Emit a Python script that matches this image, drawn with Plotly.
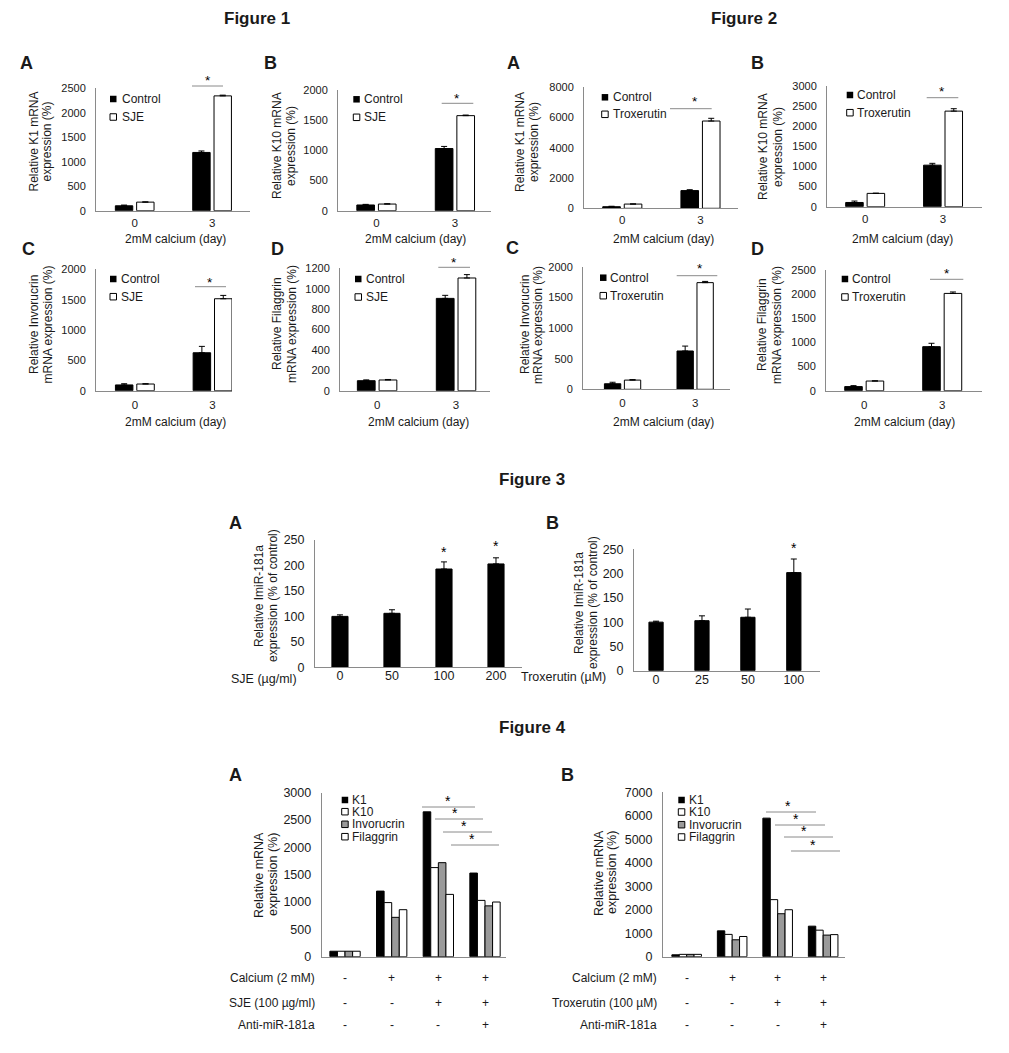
import plotly.graph_objects as go

W, H = 1009, 1053

# ------------------------- data -------------------------
days = ["0", "3"]

# Figure 1 (SJE)
f1_k1_control = [100, 1190]
f1_k1_control_err = [15, 30]
f1_k1_sje = [175, 2345]
f1_k1_sje_err = [5, 15]

f1_k10_control = [95, 1030]
f1_k10_control_err = [10, 35]
f1_k10_sje = [110, 1575]
f1_k10_sje_err = [5, 10]

f1_ivl_control = [95, 625]
f1_ivl_control_err = [20, 105]
f1_ivl_sje = [110, 1515]
f1_ivl_sje_err = [5, 55]

f1_flg_control = [98, 905]
f1_flg_control_err = [8, 30]
f1_flg_sje = [105, 1105]
f1_flg_sje_err = [5, 33]

# Figure 2 (Troxerutin)
f2_k1_control = [105, 1170]
f2_k1_control_err = [30, 60]
f2_k1_trox = [280, 5770]
f2_k1_trox_err = [10, 180]

f2_k10_control = [105, 1030]
f2_k10_control_err = [35, 45]
f2_k10_trox = [330, 2370]
f2_k10_trox_err = [5, 60]

f2_ivl_control = [90, 625]
f2_ivl_control_err = [25, 80]
f2_ivl_trox = [150, 1740]
f2_ivl_trox_err = [8, 20]

f2_flg_control = [85, 912]
f2_flg_control_err = [20, 70]
f2_flg_trox = [200, 2015]
f2_flg_trox_err = [5, 30]

# Figure 3
sje_doses = ["0", "50", "100", "200"]
f3_sje_mir = [100, 106, 193, 203]
f3_sje_mir_err = [3, 7, 14, 12]
trox_doses = ["0", "25", "50", "100"]
f3_trox_mir = [100, 103, 110, 202]
f3_trox_mir_err = [2, 10, 17, 28]
f3_sje_sig = ["100", "200"]
f3_trox_sig = ["100"]

# Figure 4
groups = ["untreated", "calcium", "calcium+drug", "calcium+drug+anti"]
markers = ["K1", "K10", "Invorucrin", "Filaggrin"]
f4a_k1 = [100, 1200, 2650, 1530]
f4a_k10 = [100, 990, 1630, 1030]
f4a_ivl = [100, 720, 1720, 930]
f4a_flg = [100, 860, 1140, 1000]
f4b_k1 = [80, 1100, 5900, 1300]
f4b_k10 = [100, 950, 2430, 1130]
f4b_ivl = [100, 720, 1830, 920]
f4b_flg = [100, 860, 2000, 940]
row_calcium = ["-", "+", "+", "+"]
row_drug = ["-", "-", "+", "+"]
row_anti = ["-", "-", "-", "+"]

# ------------------------- styling helpers -------------------------
FONT = "Liberation Sans, Arial, Helvetica, sans-serif"
TXT = "#1a1a1a"
AXC = "#8a8a8a"
GRAY = "#9a9a9a"


def px(x):
    return x / W


def py(y):
    return 1 - y / H


def ref(i, letter):
    return letter if i == 1 else f"{letter}{i}"


def axname(i, letter):
    return f"{letter}axis" if i == 1 else f"{letter}axis{i}"


fig = go.Figure()
axes = {}
annotations = []
shapes = []


def add_axes(i, cats, x0, x1, xr, base, top, ymax, dtick, tfs, xtfs, xstand, show_xt=True):
    axes[axname(i, "x")] = dict(
        domain=[px(x0), px(x1)], anchor=ref(i, "y"), type="category",
        categoryorder="array", categoryarray=cats, range=xr,
        showline=True, linecolor=AXC, linewidth=1, ticks="", showgrid=False,
        zeroline=False, showticklabels=show_xt, automargin=False,
        tickfont=dict(size=xtfs, color=TXT, family=FONT), ticklabelstandoff=xstand,
        fixedrange=True)
    axes[axname(i, "y")] = dict(
        domain=[py(base), py(top)], anchor=ref(i, "x"), range=[0, ymax],
        tick0=0, dtick=dtick, showline=True, linecolor=AXC, linewidth=1,
        ticks="", showgrid=False, zeroline=False, automargin=False,
        tickfont=dict(size=tfs, color=TXT, family=FONT), ticklabelstandoff=7,
        fixedrange=True)


def bar(i, cats, vals, err, fill, offset, width):
    kw = {}
    if err is not None:
        kw["error_y"] = dict(type="data", array=err, arrayminus=[0] * len(err),
                             symmetric=False, color="black", thickness=1, width=3)
    fig.add_trace(go.Bar(
        x=cats, y=vals, xaxis=ref(i, "x"), yaxis=ref(i, "y"),
        marker=dict(color=fill, line=dict(color="black", width=1)),
        offset=offset, width=width, showlegend=False, **kw))


def txt(x, y, s, size=12, bold=False, xanchor="center", yanchor="middle",
        angle=0, xref="paper", color=TXT):
    annotations.append(dict(
        x=px(x) if xref == "paper" else x, y=py(y), xref=xref, yref="paper",
        text=f"<b>{s}</b>" if bold else s, showarrow=False,
        font=dict(size=size, color=color, family=FONT),
        xanchor=xanchor, yanchor=yanchor, textangle=angle))


def hline(x0, x1, y):
    shapes.append(dict(type="line", xref="paper", yref="paper",
                       x0=px(x0), x1=px(x1), y0=py(y), y1=py(y),
                       line=dict(color=AXC, width=1)))


def legend_item(bx, tx, y, label, fill, size=12):
    s = 6.5
    shapes.append(dict(type="rect", xref="paper", yref="paper",
                       x0=px(bx), x1=px(bx + s), y0=py(y + s / 2), y1=py(y - s / 2),
                       fillcolor=fill,
                       line=dict(color="black", width=0 if fill == "black" else 1)))
    txt(tx, y, label, size=size, xanchor="left")


def ytitle(lines, xs, yc, size=12):
    for s, x in zip(lines, xs):
        txt(x, yc, s, size=size, angle=-90)


# ------------------------- Figures 1 & 2 -------------------------
W2 = 0.225
two_panels = [
    # idx, control, ctrl err, treat, treat err, x0, x1, xr, base, top, ymax, dtick, x-label standoff
    (1, f1_k1_control, f1_k1_control_err, f1_k1_sje, f1_k1_sje_err,
     96, 250, [-0.5, 1.49], 210.7, 88.3, 2500, 500, 1),
    (2, f1_k10_control, f1_k10_control_err, f1_k10_sje, f1_k10_sje_err,
     338, 491, [-0.49, 1.46], 210.7, 90, 2000, 500, 1),
    (3, f2_k1_control, f2_k1_control_err, f2_k1_trox, f2_k1_trox_err,
     584, 738, [-0.49, 1.48], 208.3, 87.3, 8000, 2000, 1),
    (4, f2_k10_control, f2_k10_control_err, f2_k10_trox, f2_k10_trox_err,
     827, 982, [-0.49, 1.5], 206.7, 85.7, 3000, 500, 1),
    (5, f1_ivl_control, f1_ivl_control_err, f1_ivl_sje, f1_ivl_sje_err,
     96, 232, [-0.5, 1.25], 390.7, 269.3, 2000, 500, 3),
    (6, f1_flg_control, f1_flg_control_err, f1_flg_sje, f1_flg_sje_err,
     340, 490, [-0.47, 1.43], 390.7, 268.3, 1200, 200, 3),
    (7, f2_ivl_control, f2_ivl_control_err, f2_ivl_trox, f2_ivl_trox_err,
     583, 730, [-0.545, 1.48], 389.3, 266.7, 2000, 500, 3),
    (8, f2_flg_control, f2_flg_control_err, f2_flg_trox, f2_flg_trox_err,
     826, 982, [-0.49, 1.51], 390.7, 270, 2500, 500, 3),
]
for (i, c, ce, t, te, x0, x1, xr, base, top, ymax, dt, xs) in two_panels:
    add_axes(i, days, x0, x1, xr, base, top, ymax, dt, 11, 11.5, xs)
    bar(i, days, c, ce, "black", -0.25, W2)
    bar(i, days, t, te, "white", 0.025, W2)

# panel letters, titles
txt(256.7, 19, "Figure 1", 17, True)
txt(744, 19, "Figure 2", 17, True)
for x, y, s in [(26.7, 63.3, "A"), (270.8, 63.3, "B"), (513, 63.3, "A"), (757.5, 63.3, "B"),
                (28, 249, "C"), (277.5, 249, "D"), (512.5, 248.3, "C"), (757.5, 249, "D")]:
    txt(x, y, s, 18, True)

# x titles
for x in (175, 415, 663, 902):
    txt(x, 239, "2mM calcium (day)", 12)
for x in (175, 418, 663, 904):
    txt(x, 422, "2mM calcium (day)", 12)

# y titles
ytitle(["Relative K1 mRNA", "expression (%)"], [33.5, 46.5], 142)
ytitle(["Relative K10 mRNA", "expression (%)"], [277, 291], 146)
ytitle(["Relative K1 mRNA", "expression (%)"], [520, 534], 142)
ytitle(["Relative K10 mRNA", "expression (%)"], [763, 778], 147)
ytitle(["Relative Invorucrin", "mRNA expression (%)"], [34, 47.5], 325)
ytitle(["Relative Filaggrin", "mRNA expression (%)"], [277, 292], 324)
ytitle(["Relative Invorucrin", "mRNA expression (%)"], [525, 538], 325)
ytitle(["Relative Filaggrin", "mRNA expression (%)"], [762, 777], 325)

# legends
for bx, tx, y1, y2, lab in [(110, 119.5, 99, 117, "SJE"), (353.3, 361.7, 99.3, 117.3, "SJE"),
                            (601.7, 611, 97.3, 114.3, "Troxerutin"),
                            (846.7, 855.3, 95, 112.7, "Troxerutin"),
                            (110, 119.3, 279, 296.7, "SJE"), (355, 364, 279, 297, "SJE"),
                            (600, 608.3, 277.7, 295.7, "Troxerutin"),
                            (841.7, 850, 279, 297, "Troxerutin")]:
    legend_item(bx, tx, y1, "Control", "black")
    legend_item(bx, tx, y2, lab, "white")

# significance
for x0, x1, y, sx, sy in [(192, 223, 86, 208, 81), (441.7, 473.3, 103.3, 457, 98.5),
                          (670, 711.7, 108.7, 695, 102), (926.7, 958.3, 97.7, 941.7, 91.5),
                          (195, 226, 286.7, 210, 282), (438.3, 470, 267.3, 454.3, 262.5),
                          (676.7, 717.3, 275.7, 700, 269), (930, 963.3, 279.3, 946.7, 273)]:
    hline(x0, x1, y)
    txt(sx, sy, "*", 13.5, color="#000000")

# ------------------------- Figure 3 -------------------------
txt(532, 479, "Figure 3", 17, True)
add_axes(9, sje_doses, 315, 522, [-0.48, 3.5], 667.3, 540, 250, 50, 12.5, 12.5, -3)
bar(9, sje_doses, f3_sje_mir, f3_sje_mir_err, "black", -0.155, 0.31)
add_axes(10, trox_doses, 634, 820, [-0.48, 3.57], 670.7, 549.3, 250, 50, 12.5, 12.5, -3)
bar(10, trox_doses, f3_trox_mir, f3_trox_mir_err, "black", -0.155, 0.31)
txt(235, 522.7, "A", 18, True)
txt(552.5, 523.3, "B", 18, True)
ytitle(["Relative ImiR-181a", "expression (% of control)"], [259, 273], 596, 12)
ytitle(["Relative ImiR-181a", "expression (% of control)"], [579, 593], 603, 12)
txt(299, 679, "SJE (µg/ml)", 12.5, xanchor="right")
txt(608.3, 677, "Troxerutin (µM)", 12.5, xanchor="right")
for cat, sy in zip(f3_sje_sig, [552, 546]):
    txt(sje_doses.index(cat), sy, "*", 14, xref="x9", color="#000000")
for cat, sy in zip(f3_trox_sig, [548]):
    txt(trox_doses.index(cat), sy, "*", 14, xref="x10", color="#000000")

# ------------------------- Figure 4 -------------------------
txt(532, 727, "Figure 4", 17, True)
fills = ["black", "white", GRAY, "white"]
offs = [-0.325, -0.1625, 0.0, 0.1625]
BW4 = 0.1625
add_axes(11, groups, 321.7, 506, [-0.5, 3.45], 956.7, 792.7, 3000, 500, 12.5, 12.5, 3, False)
for vals, fc, off in zip([f4a_k1, f4a_k10, f4a_ivl, f4a_flg], fills, offs):
    bar(11, groups, vals, None, fc, off, BW4)
add_axes(12, groups, 663, 845, [-0.52, 3.48], 956.7, 792.3, 7000, 1000, 12.5, 12.5, 3, False)
for vals, fc, off in zip([f4b_k1, f4b_k10, f4b_ivl, f4b_flg], fills, offs):
    bar(12, groups, vals, None, fc, off, BW4)

txt(235, 775, "A", 18, True)
txt(567.5, 775, "B", 18, True)
ytitle(["Relative mRNA", "expression (%)"], [259, 273], 875, 12.5)
ytitle(["Relative mRNA", "expression (%)"], [599, 612], 873, 12.5)

for bx, tx, ys in [(341.7, 350, [800, 811.7, 824.3, 836.7]),
                   (678.3, 686.7, [800, 812, 824.7, 837])]:
    for m, fc, y in zip(markers, fills, ys):
        legend_item(bx, tx, y, m, fc, 12)

for lines in ([(422, 475, 807, 448, 801), (435, 483, 819, 455, 813),
               (443, 492, 832, 464, 826), (451, 499, 845, 472, 839)],
              [(766, 816, 812, 788, 806), (775, 825, 825, 796, 819),
               (784, 833, 837, 804, 831), (791, 840, 851, 813, 845)]):
    for x0, x1, y, sx, sy in lines:
        hline(x0, x1, y)
        txt(sx, sy, "*", 14, color="#000000")

row_y = [978, 1003, 1025]
for xa, rx, drug_label in [("x11", 317.3, "SJE (100 µg/ml)"), ("x12", 659.3, "Troxerutin (100 µM)")]:
    for label, row, y in zip(["Calcium (2 mM)", drug_label, "Anti-miR-181a"],
                             [row_calcium, row_drug, row_anti], row_y):
        txt(rx, y, label, 12, xanchor="right")
        for gi, sym in enumerate(row):
            txt(gi, y, sym, 12, xref=xa)

fig.update_layout(
    width=W, height=H, autosize=False,
    margin=dict(l=0, r=0, t=0, b=0, pad=0),
    paper_bgcolor="white", plot_bgcolor="white",
    font=dict(family=FONT, color=TXT),
    barmode="overlay", showlegend=False,
    annotations=annotations, shapes=shapes,
    **axes)

fig.write_html("out.html")
